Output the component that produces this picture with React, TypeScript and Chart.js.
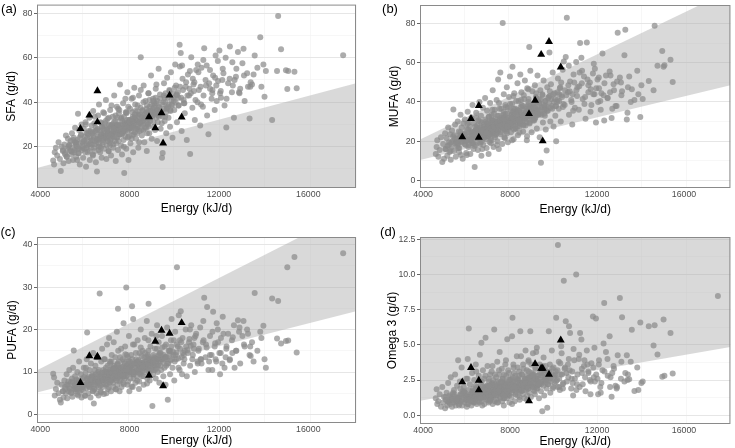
import { useEffect, useRef } from "react";
import { Chart, registerables } from "chart.js";

Chart.register(...registerables);

// Daily energy intake (kJ/d) of each participant, shared by all four panels
const energy = [
  4580, 4620, 4650, 4700, 4760, 4820, 4880, 4920, 4960, 5010,
  5040, 5080, 5110, 5150, 5180, 5210, 5240, 5270, 5300, 5330,
  5360, 5390, 5420, 5440, 5470, 5500, 5530, 5560, 5590, 5610,
  5640, 5660, 5690, 5720, 5740, 5770, 5790, 5820, 5850, 5870,
  5900, 5920, 5950, 5980, 6000, 6030, 6050, 6080, 6100, 6120,
  6150, 6170, 6200, 6220, 6250, 6270, 6300, 6320, 6350, 6370,
  6400, 6420, 6440, 6470, 6490, 6520, 6540, 6560, 6590, 6610,
  6630, 6660, 6680, 6700, 6730, 6750, 6770, 6800, 6820, 6850,
  6870, 6890, 6920, 6940, 6960, 6990, 7010, 7030, 7060, 7080,
  7100, 7130, 7150, 7170, 7200, 7220, 7240, 7270, 7290, 7310,
  7340, 7360, 7380, 7410, 7430, 7450, 7480, 7500, 7520, 7550,
  7570, 7590, 7620, 7640, 7660, 7690, 7710, 7730, 7760, 7780,
  7800, 7830, 7850, 7870, 7900, 7920, 7950, 7970, 7990, 8020,
  8040, 8070, 8090, 8110, 8140, 8160, 8190, 8210, 8240, 8260,
  8290, 8310, 8340, 8360, 8390, 8420, 8440, 8470, 8500, 8520,
  8550, 8580, 8600, 8630, 8660, 8680, 8710, 8740, 8770, 8790,
  8820, 8850, 8880, 8900, 8930, 8960, 8990, 9020, 9050, 9080,
  9110, 9140, 9170, 9200, 9230, 9260, 9300, 9330, 9360, 9390,
  9420, 9450, 9480, 9510, 9540, 9570, 9610, 9640, 9680, 9710,
  9740, 9780, 9810, 9850, 9880, 9920, 9960, 10000, 10040, 10080,
  10120, 10160, 10200, 10240, 10290, 10330, 10370, 10420, 10470, 10510,
  10560, 10610, 10660, 10710, 10760, 10810, 10860, 10920, 10980, 11040,
  11100, 11160, 11220, 11280, 11340, 11400, 11470, 11530, 11600, 11670,
  11740, 11810, 11880, 11950, 12020, 12090, 12170, 12250, 12330, 12410,
  12490, 12580, 12670, 12760, 12850, 12950, 13050, 13150, 13260, 13370,
  13480, 13600, 13720, 13850, 13990, 14040, 14380, 14600, 14650, 14780,
  15000, 15060, 15100, 15380, 15480, 17560, 10250, 11300, 12150, 13300,
  6060, 6470, 6810, 7230, 7660, 8030, 8480, 8870, 9270, 9660,
  5530, 6240, 6970, 7440, 7820, 8170, 8610, 9130, 9590, 10190,
  6680, 7040, 7390, 7740, 7960, 8330, 8760, 9440, 10430, 10880,
  11050, 11420, 11900, 12300, 12700, 13100, 13550, 13900, 10700, 11700,
  10900, 11200, 11600, 12050, 12600, 12900, 13400, 14100, 10350, 11850,
  5120, 5260, 5380, 5480, 5620, 5710, 5830, 5960, 6070, 6180,
  6260, 6330, 6410, 6480, 6550, 6620, 6690, 6740, 6790, 6840,
  6880, 6930, 6980, 7020, 7070, 7120, 7160, 7210, 7260, 7300,
  7330, 7370, 7420, 7460, 7510, 7540, 7580, 7610, 7650, 7700,
  7720, 7750, 7790, 7820, 7860, 7880, 7910, 7940, 7980, 8000,
  8050, 8080, 8120, 8150, 8180, 8220, 8250, 8280, 8320, 8350,
  8380, 8410, 8450, 8490, 8530, 8560, 8590, 8620, 8650, 8690,
  8720, 8750, 8780, 8810, 8840, 8860, 8890, 8920, 8950, 8980,
  9010, 9040, 9070, 9100, 9130, 9160, 9190, 9220, 9250, 9280,
  9310, 9350, 9380, 9410, 9460, 9490, 9530, 9560, 9600, 9630,
  9660, 9700, 9750, 9790, 9830, 9870, 9900, 9940, 9980, 10020,
  10060, 10110, 10180, 10260, 10310, 10390, 10450, 10530, 10590, 10680,
  5020, 5190, 5310, 5450, 5580, 5680, 5760, 5880, 5990, 6110,
  6230, 6310, 6380, 6460, 6530, 6600, 6650, 6710, 6780, 6830,
  6910, 6950, 7000, 7050, 7090, 7140, 7180, 7230, 7280, 7320,
  7350, 7400, 7470, 7530, 7600, 7670, 7720, 7770, 7840, 7890,
  7930, 8010, 8060, 8130, 8200, 8270, 8330, 8400, 8460, 8540,
  8610, 8680, 8730, 8800, 8870, 8940, 9000, 9090, 9180, 9270,
  5650, 6010, 6360, 6720, 7060, 7400, 7740, 8090, 8430, 8780,
  6040, 6440, 6860, 7190, 7490, 7810, 8150, 8500, 8840, 9200,
  10740, 10830, 10950, 11080, 11180, 11310, 11450, 11560, 11710, 11830,
  11960, 12080, 12200, 12340, 12480, 12620, 12780, 12920, 13120, 13420,
  5560, 5900, 6280, 6570, 6900, 7150, 7450, 7690, 7960, 8230,
  5740, 6100, 6420, 6760, 7010, 7300, 7580, 7860, 8120, 8410,
  8590, 8830, 9060, 9320, 9570, 9820, 10100, 6200, 6620, 7110,
];

// Saturated fat intake (g/d)
const sfa = [
  13.8, 12.0, 17.5, 19.5, 16.0, 22.0, 14.5, 9.1, 20.0, 18.0,
  12.5, 21.0, 17.0, 25.0, 15.5, 19.0, 23.5, 13.5, 20.5, 18.0,
  22.5, 16.5, 26.0, 19.5, 14.0, 24.0, 18.5, 28.5, 21.0, 15.5,
  20.0, 23.0, 34.8, 17.0, 27.5, 12.0, 21.5, 25.0, 30.0, 18.5,
  22.0, 15.0, 28.0, 19.0, 24.5, 31.0, 11.0, 26.0, 20.5, 17.5,
  25.5, 21.0, 33.0, 14.0, 27.0, 19.5, 29.5, 23.0, 16.5, 36.0,
  24.0, 30.5, 18.0, 26.5, 13.0, 22.0, 8.8, 28.0, 34.0, 20.0,
  39.0, 23.5, 17.5, 31.0, 25.5, 15.0, 28.5, 21.0, 35.5, 26.0,
  19.0, 29.0, 24.0, 41.0, 14.5, 27.5, 32.5, 22.5, 18.0, 30.0,
  26.0, 36.5, 21.5, 16.0, 29.5, 24.5, 33.5, 19.5, 27.0, 43.0,
  22.5, 31.5, 13.5, 27.5, 38.0, 24.0, 18.5, 30.0, 35.0, 25.5,
  48.0, 28.5, 20.5, 33.0, 16.5, 26.5, 39.5, 23.0, 8.2, 31.0,
  27.0, 35.5, 19.0, 30.5, 44.5, 24.0, 14.0, 32.0, 28.0, 37.0,
  21.5, 29.5, 41.5, 25.0, 33.5, 17.5, 30.5, 46.5, 26.5, 36.0,
  23.5, 32.0, 28.0, 38.5, 19.5, 43.0, 27.0, 34.5, 60.2, 30.0,
  25.0, 36.5, 31.5, 47.5, 22.0, 33.0, 40.5, 28.5, 18.0, 35.0,
  30.5, 44.0, 26.0, 38.0, 33.5, 52.0, 23.5, 36.0, 41.5, 29.0,
  34.5, 27.5, 46.0, 39.5, 22.5, 31.0, 55.0, 37.5, 43.5, 28.0,
  35.0, 15.0, 17.2, 40.0, 48.5, 31.5, 44.0, 26.0, 51.0, 38.0,
  33.0, 45.5, 29.0, 53.5, 39.0, 24.0, 42.0, 36.5, 57.0, 47.5,
  31.0, 44.5, 38.5, 65.8, 62.1, 27.0, 50.5, 41.0, 35.0, 47.0,
  23.0, 52.5, 43.0, 16.7, 60.2, 37.5, 48.0, 32.0, 54.5, 40.0,
  45.5, 29.5, 55.5, 38.0, 64.3, 50.0, 34.0, 25.6, 46.0, 41.5,
  52.0, 36.5, 47.5, 58.5, 63.3, 42.0, 55.0, 38.5, 28.6, 48.5,
  65.1, 44.5, 33.0, 51.5, 62.6, 46.0, 57.5, 40.5, 53.0, 32.7,
  48.0, 61.0, 55.5, 69.2, 57.0, 42.5, 32.0, 54.0, 78.8, 63.8,
  54.4, 45.9, 54.0, 53.7, 46.3, 61.1, 56.0, 59.0, 50.0, 47.0,
  21.5, 27.0, 23.0, 30.0, 26.0, 28.5, 30.5, 33.0, 35.5, 37.0,
  17.5, 22.5, 25.0, 26.5, 29.0, 31.5, 27.5, 38.5, 33.5, 42.0,
  24.5, 26.0, 29.5, 27.5, 31.0, 26.0, 37.0, 30.5, 39.5, 45.0,
  57.0, 47.5, 40.5, 60.0, 50.0, 64.0, 52.5, 47.0, 54.0, 44.0,
  49.0, 39.0, 54.5, 44.0, 58.0, 44.5, 47.0, 54.0, 56.5, 61.0,
  16.5, 20.0, 18.0, 23.0, 21.5, 17.0, 25.5, 22.5, 19.5, 27.0,
  21.5, 26.0, 19.5, 28.5, 23.5, 18.5, 27.0, 30.5, 22.0, 25.0,
  24.5, 31.5, 20.5, 27.5, 33.0, 23.0, 29.0, 25.5, 21.0, 31.0,
  26.5, 34.0, 24.0, 29.5, 22.5, 36.5, 28.0, 32.5, 25.5, 30.0,
  27.0, 33.5, 29.0, 24.5, 35.0, 30.0, 26.5, 38.0, 28.5, 32.0,
  31.0, 27.0, 35.5, 29.5, 25.5, 33.0, 39.0, 28.0, 31.5, 36.0,
  29.0, 34.5, 31.0, 37.5, 27.5, 33.5, 30.0, 40.0, 32.5, 28.5,
  35.0, 30.5, 38.5, 33.0, 29.0, 36.0, 41.0, 31.5, 34.5, 39.0,
  33.5, 37.0, 31.0, 39.5, 35.5, 42.0, 33.0, 36.5, 40.5, 34.0,
  38.0, 34.5, 41.5, 36.0, 39.0, 33.5, 43.0, 37.0, 40.0, 35.5,
  37.5, 42.0, 39.0, 45.0, 36.0, 41.0, 38.5, 44.0, 40.5, 46.5,
  40.0, 43.5, 38.5, 47.0, 42.0, 45.5, 39.5, 49.0, 43.0, 46.0,
  18.5, 15.5, 21.0, 17.5, 22.0, 19.0, 24.0, 20.5, 23.0, 26.0,
  24.0, 21.0, 25.0, 22.5, 27.5, 24.5, 20.0, 26.0, 23.5, 28.0,
  26.5, 24.0, 28.0, 25.5, 27.0, 29.5, 23.5, 26.0, 28.5, 24.5,
  28.5, 26.5, 30.0, 27.5, 29.5, 31.5, 27.0, 30.5, 28.0, 32.0,
  29.5, 31.0, 28.5, 32.5, 30.5, 33.5, 29.0, 34.0, 31.5, 33.0,
  32.0, 34.5, 33.0, 35.5, 32.5, 36.0, 34.0, 37.5, 35.0, 36.5,
  14.0, 17.5, 16.0, 19.5, 18.0, 21.5, 20.0, 23.5, 22.0, 26.0,
  30.0, 33.5, 35.0, 38.5, 37.0, 41.5, 42.0, 45.5, 44.0, 48.0,
  44.0, 50.5, 41.0, 53.5, 47.0, 43.0, 56.5, 48.5, 45.5, 51.0,
  49.5, 45.0, 53.0, 41.5, 50.5, 47.5, 55.0, 44.0, 52.0, 49.0,
  22.0, 19.5, 26.5, 23.0, 30.5, 25.0, 33.0, 27.0, 24.5, 34.5,
  19.0, 24.0, 21.0, 29.0, 22.5, 28.0, 25.5, 35.5, 28.5, 31.0,
  36.0, 30.0, 40.5, 33.5, 42.0, 36.5, 43.0, 18.0, 21.5, 20.5,
];

// Monounsaturated fat intake (g/d); null = outside the plotted range
const mufa = [
  13.4, 17.0, 20.5, 12.0, 15.5, 22.0, 9.4, 18.5, 11.0, 24.0,
  16.0, 21.5, 12.5, 27.0, 18.0, 14.5, 23.5, 10.5, 19.5, 25.5,
  20.0, 36.2, 15.0, 23.0, 28.5, 12.0, 21.0, 17.5, 30.0, 19.0,
  25.0, 16.5, 22.0, 33.5, 13.0, 27.0, 20.0, 11.0, 29.0, 24.0,
  18.5, 31.0, 23.5, 14.0, 26.5, 20.5, 35.0, 17.0, 29.5, 22.5,
  27.5, 13.5, 24.5, 32.0, 19.0, 38.5, 22.0, 16.0, 29.0, 6.8,
  25.5, 18.0, 34.5, 21.5, 28.0, 15.5, 30.5, 23.0, 40.0, 19.5,
  26.0, 33.0, 12.5, 29.5, 22.5, 37.0, 18.0, 27.5, 24.0, 42.0,
  21.0, 30.0, 16.5, 35.5, 25.0, 28.0, 13.5, 32.5, 23.5, 39.5,
  27.0, 19.0, 33.5, 24.5, 46.0, 30.5, 17.0, 28.5, 36.0, 22.0,
  31.5, 25.5, 41.0, 20.0, 29.0, 51.5, 16.0, 33.0, 27.5, 55.0,
  23.5, 36.5, 30.0, 18.5, 80.3, 27.0, 44.0, 32.0, 21.5, 38.5,
  29.0, 25.0, 47.5, 34.0, 19.5, 31.0, 42.5, 27.0, 53.0, 36.0,
  24.5, 33.5, 39.0, 58.0, 28.5, 21.0, 44.5, 31.0, 36.5, 26.5,
  35.0, 29.5, 49.5, 23.0, 40.5, 32.5, 27.5, 54.0, 37.5, 45.0,
  30.0, 38.0, 25.0, 43.5, 33.5, 51.0, 28.0, 36.5, 20.5, 47.0,
  34.0, 41.5, 68.1, 29.0, 56.0, 37.0, 24.5, 45.5, 32.5, 39.0,
  30.5, 48.5, 36.0, 42.0, 26.5, 53.5, 33.5, 39.5, 22.0, 46.0,
  9.0, 37.5, 44.0, 29.5, 51.0, 34.0, 40.5, 26.0, 15.3, 47.5,
  35.5, 42.5, 65.2, 30.0, 49.0, 38.0, 55.0, 27.5, 44.5, 33.0,
  19.9, 40.0, 52.0, 36.5, 47.0, 30.0, 43.5, 56.5, 60.7, 38.5,
  63.0, 83.0, 45.0, 33.5, 50.5, 41.0, 28.5, 54.0, 37.0, 60.4,
  47.5, 36.0, 70.1, 62.6, 41.5, 53.0, 31.5, 70.3, 45.0, 50.0,
  38.5, 54.5, 44.0, 29.5, 51.5, 47.0, 36.0, 64.7, 30.6, 53.5,
  42.0, 55.5, 31.8, 49.0, 38.0, 75.4, 52.5, 45.5, 63.8, 31.0,
  53.0, 46.5, 41.0, 56.0, 32.3, 48.5, 50.7, 46.0, 78.9, 58.5,
  66.0, 58.0, 58.7, 61.6, 50.2, null, 44.0, 49.5, 40.5, 76.9,
  21.0, 24.5, 26.5, 27.5, 29.0, 30.5, 31.0, 33.0, 34.5, 36.5,
  19.5, 25.0, 22.5, 30.0, 26.0, 34.0, 28.5, 31.5, 38.0, 41.0,
  23.0, 28.0, 24.5, 32.5, 27.5, 36.0, 29.5, 33.5, 37.5, 44.0,
  46.0, 39.0, 57.0, 43.5, 36.5, 50.0, 40.0, 44.0, 58.5, 35.0,
  35.5, 55.0, 48.5, 40.0, 45.0, 38.0, 34.5, 41.5, 50.0, 59.5,
  17.5, 15.0, 22.5, 19.0, 16.5, 24.5, 21.0, 18.0, 26.0, 20.5,
  23.0, 19.5, 27.5, 21.5, 25.5, 30.0, 20.0, 24.0, 28.5, 22.0,
  25.0, 29.0, 22.5, 32.5, 26.5, 20.5, 30.5, 24.0, 34.0, 27.0,
  28.0, 23.5, 33.0, 26.0, 36.5, 29.5, 24.5, 31.0, 27.0, 35.0,
  30.5, 26.0, 34.0, 28.5, 24.0, 37.0, 29.5, 32.0, 27.0, 39.0,
  28.0, 33.5, 30.0, 36.5, 26.0, 32.0, 29.0, 40.5, 34.5, 27.5,
  31.0, 35.5, 29.0, 33.5, 38.5, 30.5, 36.0, 28.0, 41.5, 32.0,
  33.0, 37.5, 31.0, 35.5, 40.0, 34.0, 29.5, 38.0, 32.5, 36.5,
  35.0, 31.5, 39.0, 34.5, 37.5, 32.0, 42.5, 36.0, 33.5, 40.0,
  36.5, 39.5, 34.0, 41.0, 37.0, 43.5, 35.5, 38.5, 33.0, 40.5,
  38.0, 35.5, 42.0, 39.5, 45.5, 37.0, 41.5, 36.5, 44.0, 40.0,
  41.5, 38.0, 45.0, 40.5, 47.5, 42.5, 39.0, 46.0, 43.5, 48.5,
  16.0, 19.5, 17.0, 21.5, 18.5, 23.0, 19.5, 22.0, 20.0, 24.5,
  21.0, 24.5, 22.5, 26.5, 23.0, 21.5, 27.0, 25.0, 23.5, 26.0,
  24.5, 27.0, 25.0, 28.5, 23.5, 26.5, 29.0, 25.5, 27.5, 30.0,
  26.5, 29.5, 27.5, 30.5, 28.0, 31.5, 26.0, 29.0, 31.0, 27.5,
  30.0, 28.5, 32.0, 29.5, 31.5, 30.5, 33.5, 31.0, 29.0, 34.5,
  33.0, 31.5, 34.5, 32.5, 35.5, 33.5, 36.0, 34.0, 37.0, 35.0,
  14.5, 13.0, 17.5, 16.0, 19.5, 18.0, 22.0, 20.5, 24.5, 22.5,
  29.0, 32.0, 31.0, 36.0, 39.5, 37.5, 43.0, 41.0, 46.5, 44.5,
  45.5, 40.0, 50.0, 43.0, 48.0, 56.0, 42.5, 51.5, 46.5, 44.0,
  47.0, 52.5, 44.5, 49.5, 42.0, 53.5, 46.0, 50.5, 43.5, 47.5,
  20.0, 23.5, 19.0, 27.0, 24.0, 31.0, 25.5, 33.5, 29.0, 26.5,
  22.5, 18.0, 25.5, 21.5, 29.5, 23.0, 32.0, 27.5, 35.0, 30.5,
  33.0, 38.5, 30.5, 41.5, 36.0, 43.0, 38.0, 22.0, 18.5, 21.5,
];

// Polyunsaturated fat intake (g/d)
const pufa = [
  9.6, 8.7, 4.5, 6.0, 7.5, 5.0, 3.5, 2.8, 7.0, 5.5,
  4.0, 8.0, 6.5, 5.0, 9.5, 3.8, 7.0, 5.5, 10.5, 6.0,
  7.5, 5.0, 8.5, 4.2, 11.0, 15.1, 6.5, 9.0, 5.5, 7.8,
  6.0, 10.0, 4.5, 8.0, 12.5, 5.2, 7.2, 9.5, 4.0, 6.8,
  8.5, 5.8, 11.0, 7.0, 4.5, 9.8, 6.2, 13.0, 19.3, 7.5,
  5.0, 8.8, 10.5, 6.5, 4.0, 12.0, 7.8, 9.0, 5.5, 14.5,
  2.6, 8.0, 6.0, 11.5, 9.5, 5.0, 13.5, 7.0, 10.0, 4.5,
  7.5, 28.5, 9.0, 5.5, 12.5, 8.0, 15.5, 6.5, 10.5, 4.8,
  9.0, 13.0, 7.0, 11.0, 5.0, 16.5, 8.5, 6.0, 10.0, 18.0,
  7.5, 12.0, 9.5, 5.5, 14.0, 8.0, 10.5, 6.5, 17.0, 11.5,
  8.5, 13.5, 6.0, 10.0, 19.5, 7.0, 24.9, 9.0, 12.5, 5.5,
  11.0, 8.0, 15.5, 6.5, 10.0, 13.0, 7.5, 21.5, 9.5, 12.0,
  16.0, 9.0, 29.9, 11.5, 7.0, 13.5, 10.0, 18.5, 5.5, 12.5,
  8.5, 14.0, 11.0, 25.5, 6.5, 22.5, 9.5, 16.5, 12.0, 7.5,
  13.0, 10.5, 8.0, 17.5, 11.5, 6.0, 14.5, 9.5, 20.0, 12.0,
  9.0, 15.0, 11.0, 7.0, 13.5, 18.0, 10.0, 12.5, 22.0, 8.5,
  14.0, 26.1, 10.5, 8.0, 16.0, 12.0, 19.0, 2.0, 9.5, 13.0,
  11.5, 15.5, 8.5, 13.0, 21.0, 10.0, 17.0, 7.5, 12.5, 14.5,
  10.5, 18.5, 30.0, 9.0, 13.5, 16.0, 7.0, 11.5, 20.5, 3.5,
  12.0, 15.0, 9.5, 17.5, 22.5, 11.0, 14.0, 8.0, 19.5, 13.0,
  34.7, 16.0, 23.4, 10.5, 24.3, 13.5, 18.0, 12.0, 15.0, 20.0,
  9.0, 14.5, 17.0, 11.5, 21.0, 13.0, 16.5, 10.0, 19.0, 12.5,
  15.5, 20.5, 12.0, 17.0, 27.5, 13.5, 25.3, 10.5, 18.5, 14.0,
  24.2, 16.0, 12.5, 20.0, 14.5, 18.0, 23.0, 11.0, 15.5, 19.0,
  13.0, 17.5, 21.0, 15.0, 22.2, 12.0, 18.5, 16.0, 20.0, 14.0,
  17.0, 28.6, 15.0, 19.5, 20.9, 13.0, 27.3, 17.9, 26.7, 16.7,
  17.3, 34.7, 17.4, 37.1, 14.6, 38.0, 17.5, 22.0, 12.0, 19.0,
  7.0, 8.5, 8.0, 10.0, 9.0, 11.0, 10.0, 12.0, 11.5, 13.0,
  6.0, 7.5, 10.0, 8.5, 11.0, 9.5, 12.0, 10.5, 13.5, 11.0,
  8.0, 9.5, 11.0, 9.0, 10.0, 12.5, 11.0, 13.0, 14.0, 15.5,
  12.0, 16.5, 21.5, 13.5, 11.0, 22.0, 12.5, 18.0, 20.0, 10.5,
  18.0, 13.0, 14.0, 9.5, 14.5, 19.5, 16.0, 11.0, 9.5, 13.0,
  6.0, 7.8, 5.2, 6.8, 8.2, 6.2, 5.8, 8.8, 7.2, 6.5,
  7.0, 9.5, 6.0, 8.5, 7.5, 10.5, 6.8, 9.0, 8.0, 7.2,
  8.5, 10.0, 7.2, 11.5, 9.0, 12.5, 8.0, 10.8, 7.5, 9.8,
  9.2, 11.0, 8.0, 12.0, 10.2, 7.8, 13.5, 9.5, 11.2, 8.8,
  10.0, 12.5, 8.5, 11.0, 9.0, 14.0, 10.5, 7.8, 12.0, 9.8,
  11.5, 9.5, 13.0, 10.5, 8.5, 12.0, 10.0, 14.5, 9.0, 11.8,
  10.5, 12.5, 9.8, 11.0, 13.8, 10.2, 12.2, 9.0, 11.8, 14.5,
  11.2, 13.5, 10.5, 12.0, 15.0, 11.5, 9.8, 13.0, 12.5, 10.8,
  12.0, 10.5, 14.0, 11.8, 13.2, 12.5, 10.8, 15.5, 11.5, 13.8,
  12.8, 14.5, 11.5, 13.0, 15.8, 12.2, 14.0, 11.0, 13.5, 16.5,
  13.5, 12.0, 15.0, 14.2, 12.8, 16.0, 13.0, 14.8, 17.5, 12.5,
  14.0, 16.5, 13.2, 15.5, 17.0, 14.5, 13.0, 16.0, 15.2, 17.8,
  5.5, 7.0, 6.2, 7.8, 6.0, 7.2, 8.0, 6.5, 7.5, 8.5,
  8.0, 7.0, 9.0, 7.5, 8.5, 9.5, 7.8, 8.8, 9.8, 8.2,
  9.2, 8.5, 10.0, 8.8, 9.6, 10.5, 8.2, 9.8, 10.8, 9.0,
  9.5, 10.2, 9.0, 10.8, 9.8, 11.2, 10.0, 9.2, 10.6, 11.5,
  10.5, 11.0, 10.2, 11.8, 10.0, 11.5, 12.2, 10.8, 11.6, 12.0,
  11.0, 12.5, 11.8, 12.0, 13.0, 11.5, 12.8, 13.5, 12.2, 13.2,
  4.8, 4.4, 5.6, 5.2, 6.4, 5.9, 7.1, 6.6, 7.8, 7.3,
  11.0, 10.5, 13.0, 12.5, 15.0, 14.2, 16.5, 15.8, 17.5, 18.5,
  16.2, 14.0, 18.5, 15.0, 13.0, 17.5, 15.8, 12.5, 19.5, 16.8,
  17.0, 14.5, 19.0, 16.0, 12.8, 18.2, 15.0, 20.5, 16.5, 13.8,
  7.0, 6.5, 8.8, 7.6, 10.2, 8.4, 11.8, 9.2, 12.6, 10.0,
  6.2, 8.4, 7.0, 9.6, 8.0, 11.0, 9.3, 10.6, 9.9, 12.8,
  11.2, 13.6, 12.4, 14.2, 12.9, 15.0, 14.6, 6.8, 6.4, 7.6,
];

// Omega 3 fatty acid intake (g/d)
const omega3 = [
  1.2, 1.84, 0.8, 1.0, 1.5, 0.6, 2.0, 0.9, 1.3, 0.5,
  1.1, 1.6, 0.7, 2.3, 1.0, 1.4, 0.8, 2.7, 1.2, 0.6,
  1.5, 0.9, 1.8, 1.1, 2.9, 0.7, 1.3, 2.1, 1.0, 3.9,
  1.2, 0.8, 2.4, 1.5, 1.0, 3.4, 0.7, 1.7, 1.3, 2.0,
  0.9, 1.6, 1.1, 2.6, 1.4, 0.8, 4.0, 1.8, 6.16, 1.2,
  2.2, 1.0, 1.5, 0.7, 3.0, 1.3, 1.9, 0.9, 2.5, 1.6,
  1.1, 3.6, 1.4, 0.8, 2.0, 1.7, 1.2, 2.8, 0.9, 4.3,
  1.5, 2.2, 5.15, 1.0, 1.8, 3.2, 1.3, 2.6, 0.8, 1.9,
  5.5, 1.4, 2.1, 1.1, 3.5, 1.6, 0.9, 2.4, 1.3, 2.9,
  1.7, 1.2, 3.1, 2.0, 0.8, 2.5, 1.5, 6.09, 1.0, 2.2,
  1.4, 2.7, 1.1, 3.8, 1.8, 0.9, 2.3, 1.6, 4.5, 1.2,
  2.0, 1.5, 3.3, 1.0, 2.6, 1.8, 0.7, 2.9, 1.4, 3.6,
  1.7, 2.4, 1.2, 5.4, 2.0, 1.5, 3.0, 0.9, 2.2, 1.9,
  2.6, 1.3, 5.62, 6.92, 1.8, 3.4, 2.1, 1.0, 2.8, 1.6,
  2.0, 4.2, 1.4, 2.5, 1.8, 3.1, 1.1, 5.97, 2.3, 1.7,
  2.9, 1.5, 3.6, 2.1, 1.2, 2.6, 4.6, 1.8, 3.2, 1.4,
  2.2, 3.9, 1.6, 2.7, 5.97, 1.3, 3.0, 2.0, 4.4, 1.8,
  2.5, 1.5, 3.3, 2.1, 4.8, 1.9, 2.8, 1.2, 3.6, 2.3,
  1.7, 3.0, 0.28, 2.4, 4.1, 1.4, 2.7, 3.5, 1.9, 0.54,
  2.2, 5.97, 3.1, 1.6, 2.6, 4.6, 1.9, 3.4, 2.3, 2.9,
  6.92, 2.5, 12.1, 3.8, 1.8, 2.9, 4.4, 2.2, 9.56, 3.3,
  6.68, 2.4, 3.6, 6.33, 5.85, 1.9, 3.1, 4.7, 2.6, 9.99,
  2.9, 4.0, 5.85, 5.38, 2.2, 3.5, 1.7, 4.6, 3.0, 2.5,
  3.7, 7.01, 4.79, 6.87, 2.6, 3.9, 1.6, 3.2, 7.98, 4.5,
  2.8, 5.62, 1.32, 3.5, 2.1, 4.27, 8.33, 6.96, 2.4, 4.27,
  2.55, 6.07, 1.72, 3.4, 6.59, 2.3, 6.33, 4.96, 6.4, 4.32,
  2.74, 6.8, 2.8, 5.85, 2.97, 8.47, 2.0, 3.3, 2.0, 3.0,
  1.3, 1.5, 1.7, 1.4, 1.9, 2.0, 1.8, 2.3, 2.1, 2.6,
  1.0, 1.2, 1.9, 2.1, 1.6, 2.4, 2.0, 1.7, 2.5, 2.0,
  1.6, 1.3, 1.9, 2.2, 1.4, 1.9, 2.4, 2.2, 1.9, 2.3,
  1.8, 3.9, 2.4, 5.1, 3.0, 2.6, 3.8, 1.8, 4.0, 1.5,
  1.4, 2.0, 3.1, 1.5, 2.0, 1.9, 2.5, 2.4, 4.9, 2.7,
  1.0, 1.3, 1.6, 0.9, 1.2, 1.9, 1.1, 1.4, 0.8, 1.5,
  1.7, 1.2, 2.1, 1.4, 1.0, 1.8, 2.4, 1.3, 1.6, 2.0,
  1.4, 2.0, 1.1, 2.6, 1.6, 1.2, 2.2, 1.8, 1.5, 2.9,
  1.9, 1.4, 2.4, 1.7, 2.9, 1.3, 2.1, 1.6, 2.6, 1.2,
  1.8, 2.3, 1.5, 2.8, 1.9, 1.4, 3.2, 2.0, 1.7, 2.5,
  2.2, 1.6, 2.7, 1.9, 3.0, 2.1, 1.5, 2.4, 2.0, 3.4,
  1.9, 2.5, 2.2, 1.7, 2.9, 2.0, 2.3, 3.3, 1.8, 2.6,
  2.4, 2.0, 2.8, 2.2, 1.9, 3.1, 2.5, 2.1, 2.7, 3.6,
  2.3, 2.9, 2.0, 2.6, 2.2, 3.4, 2.5, 1.9, 2.8, 2.4,
  2.6, 2.2, 3.0, 2.4, 2.8, 3.5, 2.1, 2.7, 3.2, 2.3,
  2.5, 3.1, 2.2, 2.8, 3.6, 2.4, 2.9, 3.3, 2.0, 2.7,
  2.8, 2.4, 3.2, 2.6, 3.7, 2.9, 2.3, 3.4, 3.0, 2.7,
  1.3, 0.9, 1.1, 1.5, 1.2, 1.0, 1.4, 1.7, 1.1, 1.3,
  1.4, 1.7, 1.2, 1.9, 1.5, 1.3, 1.6, 2.0, 1.4, 1.8,
  1.6, 1.9, 1.5, 2.1, 1.7, 1.4, 2.3, 1.8, 1.6, 2.0,
  1.8, 2.1, 1.6, 1.9, 2.3, 1.7, 2.0, 1.5, 2.2, 1.9,
  2.0, 1.8, 2.2, 2.4, 1.9, 2.1, 2.6, 2.0, 2.3, 1.8,
  2.1, 2.5, 2.3, 2.0, 2.7, 2.2, 2.4, 2.9, 2.6, 2.3,
  0.7, 0.6, 0.9, 0.7, 1.0, 0.9, 1.2, 0.8, 1.3, 1.1,
  2.6, 3.1, 2.8, 3.5, 3.2, 3.9, 3.6, 4.2, 3.8, 4.5,
  3.2, 2.6, 3.9, 2.2, 4.3, 3.0, 2.7, 3.6, 2.4, 3.4,
  2.9, 3.6, 2.3, 3.1, 4.0, 2.7, 3.3, 2.0, 3.8, 2.9,
  1.2, 1.6, 1.0, 1.9, 1.3, 2.2, 1.7, 1.4, 2.5, 1.8,
  1.5, 1.1, 1.8, 1.2, 2.1, 1.5, 2.4, 1.7, 2.0, 2.8,
  2.3, 1.9, 2.8, 2.2, 3.0, 2.6, 3.1, 1.0, 1.2, 1.1,
];

// Highlighted participants (black triangles)
const triEnergy = [5800, 6200, 6560, 6560, 8870, 9150, 9430, 9500, 9790, 10330];
const triSfa = [28.1, 34.1, 45.1, 31.1, 33.4, 28.4, 35.2, 21.6, 43.1, 33.3];
const triMufa = [22.1, 31.5, 38.1, 21.9, 34.0, 40.8, 64.2, 20.1, 70.8, 57.8];
const triPufa = [7.5, 13.8, 13.7, 13.5, 9.2, 17.2, 19.8, 6.75, 19.1, 21.6];
const triOmega3 = [2.36, 3.38, 2.48, 1.79, 1.01, 3.66, 3.33, 3.33, 2.9, 5.33];

// Recommended intake ranges, given at both ends of the energy axis
const bandEnergy = [3855, 18135];
const sfaUpper = [10.4, 48.5];
const mufaLower = [10.4, 48.5];
const mufaUpper = [20.8, 97.0];
const pufaLower = [5.2, 24.3];
const pufaUpper = [10.4, 48.5];
const omega3Lower = [1.04, 4.85];

// Labelled energy ticks
const xTickLabels = [4000, 8000, 12000, 16000];

const FONT = "'Liberation Sans', Arial, Helvetica, sans-serif";
const TICK_SIZE = 8.8;
const X_MIN = 3855;
const X_MAX = 18135;

type Num = number | null;
const toPoints = (xs: number[], ys: Num[]) =>
  xs.map((x, i) => ({ x, y: ys[i] })).filter((p) => p.y !== null && p.y !== undefined) as {
    x: number;
    y: number;
  }[];

type Spec = {
  tag: string;
  tagX: number;
  tagY: number;
  left: number;
  top: number;
  width: number;
  height: number;
  pad: { left: number; top: number; right: number; bottom: number };
  yAxisW: number;
  xAxisH: number;
  yTitle: string;
  yTitlePad: number;
  xTitlePad: number;
  yMin: number;
  yMax: number;
  yStep: number;
  yMajor: number;
  yDec: number;
  values: Num[];
  marks: number[];
  lower: number[] | null;
  upper: number[] | null;
};

const panels: Spec[] = [
  {
    tag: "(a)", tagX: 9, tagY: 8,
    left: 0, top: 0, width: 367, height: 224,
    pad: { left: 0, top: 2, right: 11, bottom: 0 },
    yAxisW: 37, xAxisH: 36, yTitle: "SFA (g/d)", yTitlePad: 4.8, xTitlePad: 8.6,
    yMin: 1.4, yMax: 83.9, yStep: 10, yMajor: 20, yDec: 0,
    values: sfa, marks: triSfa, lower: null, upper: sfaUpper,
  },
  {
    tag: "(b)", tagX: 390, tagY: 8,
    left: 367, top: 0, width: 368, height: 224,
    pad: { left: 0, top: 5, right: 2, bottom: 0 },
    yAxisW: 53, xAxisH: 36, yTitle: "MUFA (g/d)", yTitlePad: 20.3, xTitlePad: 7.0,
    yMin: -3.9, yMax: 89.5, yStep: 10, yMajor: 20, yDec: 0,
    values: mufa, marks: triMufa, lower: mufaLower, upper: mufaUpper,
  },
  {
    tag: "(c)", tagX: 8, tagY: 231,
    left: 0, top: 224, width: 367, height: 224,
    pad: { left: 0, top: 13, right: 11, bottom: 0 },
    yAxisW: 37, xAxisH: 25, yTitle: "PUFA (g/d)", yTitlePad: 5.3, xTitlePad: 0.2,
    yMin: -2.0, yMax: 41.8, yStep: 5, yMajor: 10, yDec: 0,
    values: pufa, marks: triPufa, lower: pufaLower, upper: pufaUpper,
  },
  {
    tag: "(d)", tagX: 388, tagY: 231,
    left: 367, top: 224, width: 368, height: 224,
    pad: { left: 0, top: 13, right: 2, bottom: 0 },
    yAxisW: 53, xAxisH: 24, yTitle: "Omega 3 (g/d)", yTitlePad: 18.8, xTitlePad: -0.6,
    yMin: -0.62, yMax: 12.66, yStep: 1.25, yMajor: 2.5, yDec: 1,
    values: omega3, marks: triOmega3, lower: omega3Lower, upper: null,
  },
];

const isMultiple = (v: number, step: number) => Math.abs(v / step - Math.round(v / step)) < 1e-6;

// Panel frame plus the energy tick labels under it
const frame = {
  id: "frame",
  afterDraw(chart: any) {
    const { ctx, chartArea: a, scales } = chart;
    ctx.save();
    ctx.strokeStyle = "#8a8a8a";
    ctx.lineWidth = 1;
    ctx.strokeRect(a.left + 0.5, a.top + 0.5, a.width - 1, a.height - 1);
    ctx.fillStyle = "#4d4d4d";
    ctx.font = `${TICK_SIZE}px ${FONT}`;
    ctx.textAlign = "center";
    ctx.textBaseline = "top";
    for (const v of xTickLabels) {
      ctx.fillText(String(v), scales.x.getPixelForValue(v), a.bottom + 2);
    }
    ctx.restore();
  },
};

const BAND = "rgba(170,170,170,0.45)";

function Panel({ spec }: { spec: Spec }) {
  const ref = useRef<HTMLCanvasElement>(null);

  useEffect(() => {
    const datasets: any[] = [
      {
        type: "scatter",
        data: toPoints(triEnergy, spec.marks),
        pointStyle: "triangle",
        pointRadius: 4.6,
        pointBackgroundColor: "#000",
        pointBorderWidth: 0,
        borderWidth: 0,
      },
      {
        type: "scatter",
        data: toPoints(energy, spec.values),
        pointStyle: "circle",
        pointRadius: 3,
        pointBackgroundColor: "rgba(140,140,140,0.72)",
        pointBorderWidth: 0,
        borderWidth: 0,
      },
    ];
    if (spec.lower && spec.upper) {
      datasets.push(
        { type: "line", data: toPoints(bandEnergy, spec.lower), borderWidth: 0, pointRadius: 0, fill: false },
        { type: "line", data: toPoints(bandEnergy, spec.upper), borderWidth: 0, pointRadius: 0, fill: "-1", backgroundColor: BAND },
      );
    } else if (spec.upper) {
      datasets.push({ type: "line", data: toPoints(bandEnergy, spec.upper), borderWidth: 0, pointRadius: 0, fill: "start", backgroundColor: BAND });
    } else if (spec.lower) {
      datasets.push({ type: "line", data: toPoints(bandEnergy, spec.lower), borderWidth: 0, pointRadius: 0, fill: "end", backgroundColor: BAND });
    }

    const gridColor = (major: boolean) => (major ? "#e6e6e6" : "#f1f1f1");

    const chart = new Chart(ref.current as HTMLCanvasElement, {
      type: "scatter",
      data: { datasets },
      plugins: [frame],
      options: {
        animation: false,
        responsive: false,
        maintainAspectRatio: false,
        devicePixelRatio: 1,
        events: [],
        layout: { padding: spec.pad },
        plugins: {
          legend: { display: false },
          tooltip: { enabled: false },
          filler: { propagate: false, drawTime: "beforeDatasetsDraw" },
        },
        scales: {
          x: {
            type: "linear",
            position: "bottom",
            min: X_MIN,
            max: X_MAX,
            border: { display: false },
            grid: {
              color: (c: any) => gridColor(isMultiple(c.tick.value, 4000)),
              lineWidth: (c: any) => (isMultiple(c.tick.value, 4000) ? 1 : 0.6),
              drawTicks: true,
              tickLength: 3,
              tickWidth: 1,
              tickColor: (c: any) => (isMultiple(c.tick.value, 4000) ? "#666" : "rgba(0,0,0,0)"),
            },
            ticks: {
              stepSize: 2000,
              includeBounds: false,
              autoSkip: false,
              maxRotation: 0,
              padding: 0,
              font: { family: FONT, size: TICK_SIZE },
              callback: () => "",
            },
            title: {
              display: true,
              text: "Energy (kJ/d)",
              color: "#000",
              font: { family: FONT, size: 12 },
              padding: { top: 0, bottom: spec.xTitlePad },
            },
            afterFit: (s: any) => {
              s.height = spec.xAxisH;
              s.paddingLeft = 0;
              s.paddingRight = 0;
              s.paddingTop = 0;
              s.paddingBottom = 0;
            },
          },
          y: {
            type: "linear",
            position: "left",
            min: spec.yMin,
            max: spec.yMax,
            border: { display: false },
            grid: {
              color: (c: any) => gridColor(isMultiple(c.tick.value, spec.yMajor)),
              lineWidth: (c: any) => (isMultiple(c.tick.value, spec.yMajor) ? 1 : 0.6),
              drawTicks: true,
              tickLength: 3,
              tickWidth: 1,
              tickColor: (c: any) => (isMultiple(c.tick.value, spec.yMajor) ? "#666" : "rgba(0,0,0,0)"),
            },
            ticks: {
              stepSize: spec.yStep,
              includeBounds: false,
              autoSkip: false,
              padding: 1.5,
              color: "#4d4d4d",
              font: { family: FONT, size: TICK_SIZE },
              callback: (v: any) =>
                isMultiple(Number(v), spec.yMajor) ? Number(v).toFixed(spec.yDec) : "",
            },
            title: {
              display: true,
              text: spec.yTitle,
              color: "#000",
              font: { family: FONT, size: 12 },
              padding: { top: spec.yTitlePad, bottom: 0 },
            },
            afterFit: (s: any) => {
              s.width = spec.yAxisW;
              s.paddingLeft = 0;
              s.paddingRight = 0;
              s.paddingTop = 0;
              s.paddingBottom = 0;
            },
          },
        },
      } as any,
    });
    return () => chart.destroy();
  }, [spec]);

  return (
    <canvas
      ref={ref}
      width={spec.width}
      height={spec.height}
      style={{ position: "absolute", left: spec.left, top: spec.top, width: spec.width, height: spec.height }}
    />
  );
}

export default function App() {
  return (
    <div style={{ position: "absolute", left: 0, top: 0, width: 735, height: 448, background: "#fff", overflow: "hidden" }}>
      {panels.map((p) => (
        <Panel key={p.tag} spec={p} />
      ))}
      {panels.map((p) => (
        <div
          key={p.tag + "-tag"}
          style={{
            position: "absolute",
            left: p.tagX,
            top: p.tagY,
            transform: "translate(-50%, -50%)",
            fontFamily: FONT,
            fontSize: 13,
            lineHeight: "13px",
            color: "#000",
            whiteSpace: "nowrap",
          }}
        >
          {p.tag}
        </div>
      ))}
    </div>
  );
}
